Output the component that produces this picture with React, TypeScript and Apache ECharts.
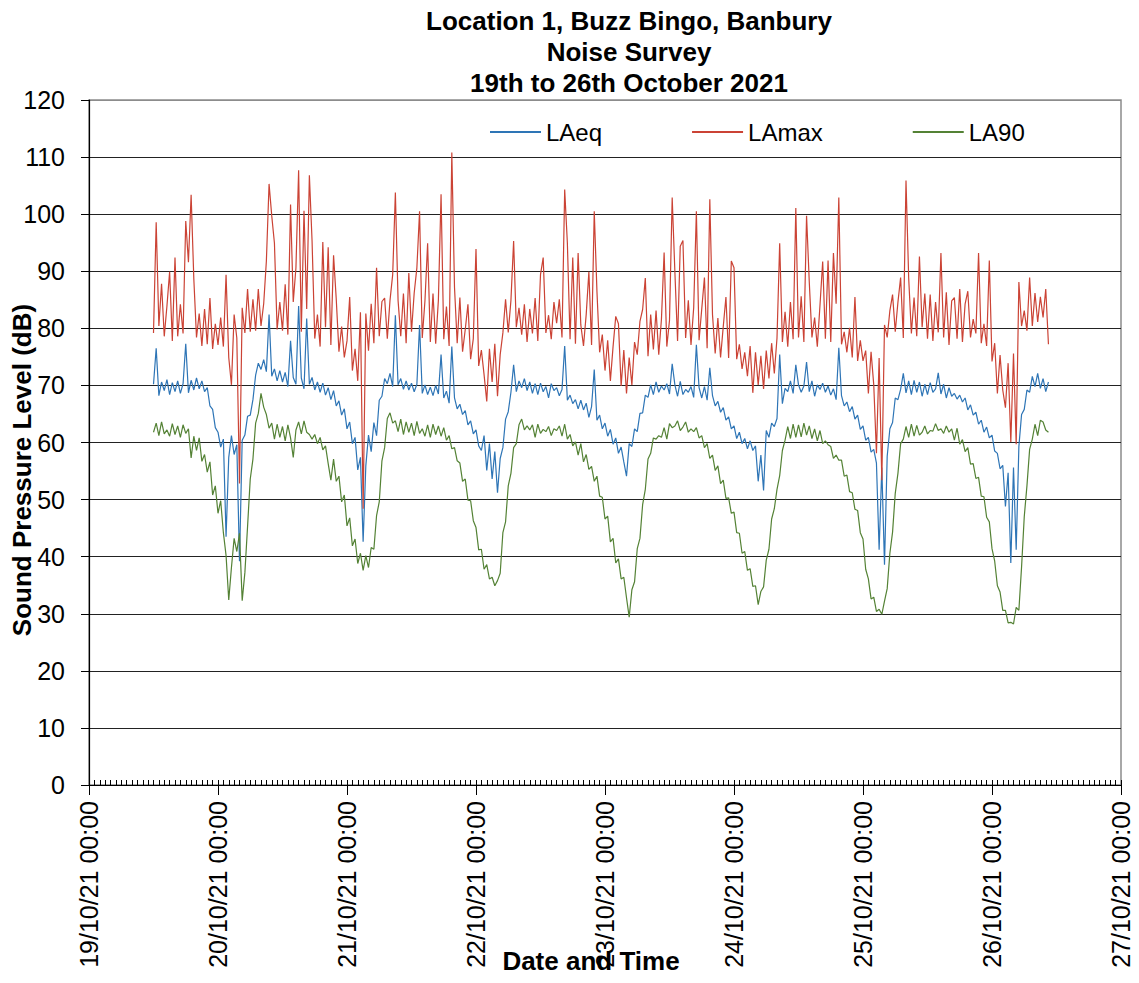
import React, { useEffect, useRef } from 'react';
import * as echarts from 'echarts';

const TITLE_LINES = ['Location 1, Buzz Bingo, Banbury', 'Noise Survey', '19th to 26th October 2021'];
const SERIES_NAMES = ['LAeq', 'LAmax', 'LA90'];
const X_TICK_LABELS = [
  '19/10/21 00:00', '20/10/21 00:00', '21/10/21 00:00', '22/10/21 00:00', '23/10/21 00:00',
  '24/10/21 00:00', '25/10/21 00:00', '26/10/21 00:00', '27/10/21 00:00',
];
const X_AXIS_TITLE = 'Date and Time';
const Y_AXIS_TITLE = 'Sound Pressure Level (dB)';

// samples every 30 minutes, first sample at 19/10/21 12:00 (hours counted from 19/10/21 00:00)
const START_HOUR = 12;
const STEP_HOURS = 0.5;

const laeq = [
  70.2, 76.5, 68.2, 70.6, 69.1, 71.0, 68.4, 70.5, 68.9, 70.8, 68.6, 70.3,
  77.3, 68.7, 70.9, 69.2, 71.3, 69.4, 70.8, 68.9, 69.6, 66.4, 65.8, 62.6,
  61.8, 59.2, 60.6, 43.5, 57.4, 61.2, 57.9, 59.6, 39.2, 60.4, 61.3, 64.6,
  64.8, 67.5, 71.8, 73.9, 72.8, 74.5, 72.4, 82.4, 71.6, 72.9, 70.8, 72.6,
  70.6, 72.3, 69.8, 77.8, 71.4, 70.2, 83.9, 71.3, 69.4, 81.7, 70.2, 71.4,
  69.2, 70.6, 68.8, 70.4, 68.3, 69.6, 67.5, 69.1, 66.4, 67.3, 64.8, 65.9,
  62.4, 63.6, 59.8, 60.9, 55.2, 57.4, 42.6, 55.9, 61.3, 58.4, 63.5, 61.2,
  67.4, 68.1, 71.2, 70.3, 72.1, 69.8, 82.3, 70.1, 71.2, 69.3, 70.8, 69.2,
  70.4, 68.9, 70.2, 80.6, 68.6, 70.1, 68.4, 69.7, 68.2, 70.0, 68.5, 75.4,
  67.8, 69.0, 66.9, 76.8, 67.8, 65.9, 66.7, 64.9, 65.6, 63.1, 63.8, 61.5,
  62.2, 59.4, 58.6, 61.2, 55.1, 59.8, 53.6, 58.4, 51.2, 57.2, 59.1, 64.1,
  65.4, 68.8, 73.6, 68.9, 70.8, 69.6, 71.2, 69.1, 70.6, 68.6, 70.3, 68.4,
  70.4, 68.9, 69.8, 67.8, 70.3, 69.1, 69.6, 68.2, 69.3, 76.9, 67.4, 68.3,
  66.8, 67.5, 65.9, 67.4, 65.7, 66.9, 64.4, 66.3, 72.8, 63.9, 64.8, 62.4,
  63.4, 61.1, 62.3, 59.7, 60.8, 58.1, 59.2, 56.6, 54.1, 59.8, 59.3, 62.4,
  61.9, 65.1, 65.2, 68.3, 67.9, 70.1, 68.4, 70.6, 68.8, 69.9, 69.2, 70.3,
  68.5, 73.8, 70.1, 68.1, 70.7, 68.4, 69.3, 68.8, 69.8, 67.9, 77.1, 69.6,
  67.8, 69.8, 67.4, 73.1, 68.2, 66.4, 67.2, 65.3, 66.1, 63.9, 64.5, 62.4,
  62.9, 60.7, 61.8, 59.8, 60.7, 58.9, 60.3, 58.6, 59.4, 53.2, 57.8, 51.6,
  62.1, 60.9, 63.4, 62.8, 64.2, 75.4, 66.8, 69.5, 68.9, 70.8, 68.6, 73.6,
  70.1, 68.8, 69.9, 74.1, 68.9, 70.8, 68.1, 70.1, 69.3, 70.4, 68.8, 69.9,
  68.3, 69.4, 67.5, 76.6, 68.2, 66.4, 67.1, 65.4, 66.3, 64.1, 64.8, 62.3,
  62.9, 60.4, 60.9, 58.3, 58.8, 56.4, 41.2, 55.6, 38.6, 57.6, 62.4, 63.5,
  67.8, 67.5, 69.3, 72.1, 68.7, 70.8, 68.4, 70.9, 68.8, 70.6, 68.1, 70.2,
  68.4, 70.5, 68.8, 69.4, 72.2, 68.5, 70.2, 67.8, 69.6, 68.1, 68.6, 67.6,
  68.3, 67.1, 67.8, 65.7, 66.6, 64.8, 65.3, 63.2, 63.9, 61.8, 62.7, 60.8,
  61.3, 58.5, 58.1, 55.4, 56.0, 48.8, 54.7, 38.9, 55.6, 41.2, 59.3, 64.9,
  65.8, 69.2, 68.8, 71.6, 69.8, 72.1, 69.5, 71.2, 68.9, 70.6,
];

const lamax = [
  79.2, 98.6, 80.4, 87.8, 78.6, 83.9, 89.9, 77.8, 92.4, 78.6, 84.2, 79.1,
  98.8, 91.6, 103.4, 88.7, 78.4, 82.6, 76.9, 83.4, 77.2, 85.3, 76.4, 80.8,
  77.1, 81.9, 76.8, 89.4, 74.9, 70.1, 82.4, 78.3, 52.8, 83.6, 79.2, 86.9,
  79.4, 85.1, 79.6, 86.9, 80.4, 84.3, 91.8, 105.3, 99.7, 94.9, 79.8, 84.6,
  79.6, 87.7, 78.9, 101.7, 84.6, 90.6, 107.7, 79.4, 100.6, 83.4, 106.8, 95.3,
  78.2, 82.4, 76.8, 95.1, 80.2, 94.2, 77.1, 92.8, 85.1, 75.9, 80.3, 74.9,
  77.8, 85.5, 72.6, 76.4, 70.8, 82.8, 48.4, 82.6, 76.1, 84.3, 77.4, 90.6,
  78.6, 84.7, 85.3, 78.2, 84.9, 89.4, 103.8, 84.9, 78.6, 86.1, 77.4, 89.7,
  79.4, 86.2, 90.6, 100.5, 78.3, 84.8, 94.9, 77.6, 86.1, 77.3, 84.9, 103.5,
  78.1, 83.8, 76.9, 110.8, 87.2, 77.4, 85.4, 75.9, 79.8, 84.2, 74.6, 78.2,
  93.9, 73.4, 76.2, 71.9, 67.2, 76.4, 70.6, 77.3, 68.1, 75.4, 79.2, 85.1,
  79.3, 84.9, 95.3, 80.2, 83.6, 78.9, 84.2, 77.6, 83.4, 79.1, 85.3, 77.8,
  89.4, 92.4, 79.2, 82.3, 78.1, 84.6, 80.9, 85.1, 78.4, 104.3, 94.9, 78.1,
  92.4, 77.3, 93.2, 80.6, 76.9, 82.4, 89.9, 77.1, 100.5, 86.5, 75.8, 78.9,
  72.6, 77.9, 70.8, 76.8, 82.1, 80.8, 69.9, 76.2, 68.6, 74.9, 70.1, 77.6,
  75.4, 81.2, 83.3, 88.8, 75.1, 82.4, 76.3, 83.1, 75.4, 81.6, 93.3, 76.8,
  81.4, 102.9, 89.9, 77.8, 94.4, 95.4, 78.3, 84.9, 77.1, 83.6, 100.5, 77.9,
  83.4, 88.9, 76.5, 102.6, 82.4, 75.6, 81.8, 74.9, 80.3, 85.5, 74.8, 91.8,
  90.6, 74.6, 77.2, 72.9, 75.8, 71.6, 76.9, 68.7, 75.8, 70.1, 75.2, 69.4,
  76.1, 71.2, 77.4, 72.1, 78.3, 94.9, 77.6, 82.9, 76.8, 84.6, 78.1, 101.1,
  78.4, 85.6, 77.6, 99.7, 88.2, 78.4, 81.9, 76.8, 84.1, 91.7, 78.2, 91.9,
  77.6, 93.2, 84.3, 102.9, 77.2, 79.4, 75.8, 80.1, 74.9, 85.5, 74.3, 77.9,
  74.3, 76.1, 68.6, 75.9, 70.1, 58.1, 74.8, 53.4, 80.6, 78.4, 83.1, 85.9,
  79.4, 84.6, 88.9, 78.3, 105.9, 88.8, 79.1, 85.4, 78.6, 92.6, 80.2, 86.1,
  78.2, 85.9, 77.8, 84.6, 79.3, 93.2, 78.4, 86.3, 77.1, 84.8, 85.4, 78.2,
  86.9, 77.6, 84.3, 86.5, 78.4, 81.6, 79.1, 93.2, 77.4, 80.8, 76.9, 91.9,
  74.2, 77.4, 68.6, 75.3, 69.2, 66.1, 73.9, 60.1, 75.6, 59.7, 88.1, 80.4,
  83.1, 79.6, 88.9, 80.4, 86.2, 81.1, 85.5, 81.9, 86.9, 77.2,
];

const la90 = [
  61.8, 63.4, 61.2, 63.6, 61.5, 62.2, 61.1, 63.3, 61.4, 62.9, 60.9, 63.1,
  61.6, 62.4, 57.3, 61.1, 58.6, 60.8, 56.7, 57.9, 54.8, 56.6, 50.8, 52.4,
  47.6, 49.8, 44.2, 40.2, 32.4, 38.1, 43.2, 40.9, 44.1, 32.3, 37.2, 45.3,
  53.6, 57.1, 63.4, 65.1, 68.6, 66.2, 64.9, 62.5, 63.4, 60.6, 63.2, 60.9,
  62.8, 60.3, 63.1, 60.8, 57.4, 62.2, 63.6, 61.5, 63.8, 61.8, 61.4, 60.6,
  61.4, 59.8, 60.9, 58.7, 59.4, 56.3, 53.4, 57.1, 53.2, 54.1, 49.6, 50.8,
  45.4, 46.8, 41.9, 43.1, 38.8, 40.6, 37.6, 40.2, 38.1, 41.6, 41.3, 47.2,
  49.6, 56.8, 59.1, 64.2, 65.2, 63.4, 63.8, 61.9, 64.1, 61.4, 63.6, 61.8,
  63.4, 61.2, 63.7, 61.6, 62.4, 61.1, 63.1, 60.9, 63.2, 61.4, 62.9, 61.1,
  62.6, 60.4, 61.2, 58.9, 59.1, 56.8, 56.4, 53.2, 53.6, 49.9, 49.8, 46.3,
  45.1, 41.2, 41.3, 37.8, 38.6, 36.1, 36.4, 34.9, 35.8, 37.1, 44.2, 46.1,
  52.4, 54.6, 59.1, 59.8, 63.1, 64.1, 62.2, 62.9, 62.2, 63.1, 60.9, 63.2,
  61.6, 62.3, 61.9, 62.8, 61.2, 62.4, 62.1, 62.9, 61.1, 63.2, 60.6, 61.4,
  59.4, 60.1, 57.8, 59.8, 56.6, 57.9, 55.3, 55.8, 53.2, 54.1, 50.6, 50.4,
  46.6, 47.1, 42.6, 43.2, 38.9, 39.6, 36.1, 36.4, 32.8, 29.4, 34.2, 35.6,
  41.4, 43.2, 49.1, 51.8, 57.1, 58.1, 60.8, 60.6, 61.2, 60.9, 62.6, 60.6,
  63.3, 62.6, 62.9, 63.8, 62.1, 62.7, 63.6, 61.8, 62.4, 61.9, 62.6, 60.8,
  61.2, 59.1, 59.8, 57.2, 57.8, 55.1, 55.9, 52.8, 53.4, 50.2, 50.3, 47.6,
  47.8, 44.2, 44.1, 40.6, 40.9, 37.6, 37.9, 34.8, 34.9, 31.6, 33.9, 34.7,
  39.4, 41.3, 46.6, 48.4, 51.8, 54.2, 58.6, 60.4, 62.8, 60.7, 63.2, 60.9,
  63.1, 61.0, 63.4, 61.3, 62.9, 60.7, 62.4, 60.3, 62.1, 59.8, 60.3, 59.6,
  59.3, 57.2, 57.8, 56.9, 56.9, 54.1, 54.3, 51.4, 51.2, 48.3, 48.1, 44.2,
  43.1, 37.8, 36.1, 32.6, 32.9, 30.4, 30.8, 29.9, 32.2, 34.4, 40.6, 44.3,
  51.1, 54.6, 59.8, 60.6, 62.8, 60.9, 63.2, 61.1, 63.0, 61.3, 61.8, 62.9,
  61.5, 62.1, 62.0, 63.3, 62.1, 62.4, 61.6, 62.9, 61.8, 62.4, 60.4, 62.5,
  59.7, 60.5, 58.4, 59.1, 56.2, 56.3, 53.7, 53.9, 50.6, 50.5, 46.9, 46.1,
  41.4, 39.2, 34.9, 33.8, 30.6, 30.6, 28.4, 28.5, 28.2, 31.1, 30.6, 38.2,
  47.0, 52.4, 58.8, 60.6, 63.2, 61.2, 63.9, 63.6, 62.2, 61.8,
];

const COLORS = ['#2e75b6', '#cb4335', '#548235'];
const FONT = '"Liberation Sans", Arial, sans-serif';

export default function App() {
  const ref = useRef<HTMLDivElement>(null);

  useEffect(() => {
    document.body.style.margin = '0';
    const chart = echarts.init(ref.current as HTMLDivElement, null, { renderer: 'svg' });
    const toPairs = (vals: number[]) => vals.map((v, i) => [START_HOUR + i * STEP_HOURS, v]);
    const splitColors = Array.from({ length: 13 }, (_, i) => (i === 12 ? '#8c8c8c' : '#222'));

    const mkSeries = (name: string, vals: number[], color: string) => ({
      name,
      type: 'line',
      xAxisIndex: 0,
      yAxisIndex: 0,
      data: toPairs(vals),
      showSymbol: false,
      symbol: 'none',
      lineStyle: { color, width: 1.2 },
      itemStyle: { color },
      emphasis: { disabled: true },
    });

    chart.setOption({
      animation: false,
      backgroundColor: '#ffffff',
      textStyle: { fontFamily: FONT },
      legend: {
        data: SERIES_NAMES,
        left: 485,
        top: 115,
        icon: 'rect',
        itemWidth: 51,
        itemHeight: 2,
        itemGap: 90,
        textStyle: { fontSize: 24, color: '#000', fontFamily: FONT },
      },
      grid: {
        left: 89,
        right: 18,
        top: 100,
        bottom: 198,
        show: true,
        borderColor: '#8c8c8c',
        borderWidth: 1.5,
        backgroundColor: 'transparent',
      },
      xAxis: [
        {
          type: 'value',
          position: 'bottom',
          min: 0,
          max: 192,
          interval: 24,
          axisLine: { show: true, onZero: false, lineStyle: { color: '#000', width: 1.2 } },
          axisTick: { show: true, inside: false, length: 10, lineStyle: { color: '#000' } },
          axisLabel: {
            rotate: 90,
            margin: 16,
            fontSize: 25,
            color: '#000',
            fontFamily: FONT,
            formatter: (v: number) => X_TICK_LABELS[Math.round(v / 24)] ?? '',
          },
          splitLine: { show: false },
        },
        {
          type: 'value',
          position: 'bottom',
          min: 0,
          max: 192,
          interval: 1,
          axisLine: { show: false, onZero: false },
          axisTick: { show: true, inside: true, length: 5, lineStyle: { color: '#000' } },
          axisLabel: { show: false },
          splitLine: { show: false },
        },
      ],
      yAxis: {
        type: 'value',
        min: 0,
        max: 120,
        interval: 10,
        axisLine: { show: true, lineStyle: { color: '#000', width: 1.2 } },
        axisTick: { show: true, inside: false, length: 8, lineStyle: { color: '#000' } },
        axisLabel: { fontSize: 25, color: '#000', margin: 24, fontFamily: FONT },
        splitLine: { show: true, lineStyle: { color: splitColors, width: 1 } },
      },
      graphic: [
        {
          type: 'text',
          z: 100,
          x: 629,
          y: 5,
          style: {
            text: TITLE_LINES.join('\n'),
            fill: '#000',
            fontSize: 26,
            fontWeight: 'bold',
            fontFamily: FONT,
            lineHeight: 31,
            align: 'center',
            verticalAlign: 'top',
          },
        },
        {
          type: 'text',
          z: 100,
          x: 591,
          y: 961,
          style: {
            text: X_AXIS_TITLE,
            fill: '#000',
            fontSize: 26,
            fontWeight: 'bold',
            fontFamily: FONT,
            align: 'center',
            verticalAlign: 'middle',
          },
        },
        {
          type: 'text',
          z: 100,
          x: 22,
          y: 470,
          rotation: Math.PI / 2,
          style: {
            text: Y_AXIS_TITLE,
            fill: '#000',
            fontSize: 26,
            fontWeight: 'bold',
            fontFamily: FONT,
            align: 'center',
            verticalAlign: 'middle',
          },
        },
      ],
      series: [
        mkSeries(SERIES_NAMES[0], laeq, COLORS[0]),
        mkSeries(SERIES_NAMES[1], lamax, COLORS[1]),
        mkSeries(SERIES_NAMES[2], la90, COLORS[2]),
      ],
    });

    return () => chart.dispose();
  }, []);

  return <div ref={ref} style={{ width: 1139, height: 983 }} />;
}
